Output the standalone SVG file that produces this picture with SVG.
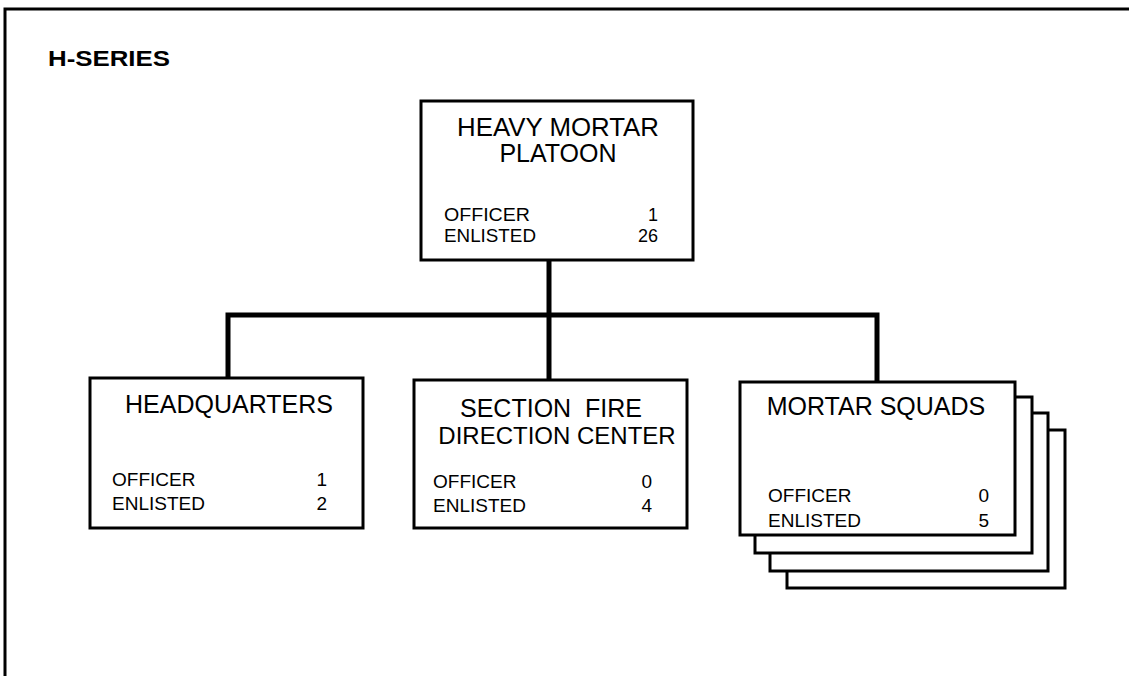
<svg xmlns="http://www.w3.org/2000/svg" width="1129" height="676" viewBox="0 0 1129 676">
<style>
.box{fill:#fff;stroke:#000;stroke-width:3}
.conn{fill:none;stroke:#000;stroke-width:5;stroke-linejoin:miter}
.t{font-family:"Liberation Sans",Arial,sans-serif;fill:#000}
.title{font-size:25px;text-anchor:middle}
.row{font-size:19px}
.num{font-size:19px;text-anchor:end}
.sm{font-size:18px}
</style>
<rect width="1129" height="676" fill="#fff"/>
<rect x="5" y="9" width="1200" height="800" fill="none" stroke="#000" stroke-width="3"/>
<text class="t" x="48" y="66" font-size="22" font-weight="bold" textLength="122" lengthAdjust="spacingAndGlyphs">H-SERIES</text>
<g id="connectors">
<path class="conn" d="M549 260 V380"/>
<path class="conn" d="M228 380 V315 H877 V382"/>
</g>
<g id="platoon">
<rect class="box" x="421" y="101" width="272" height="159"/>
<text class="t title" x="558" y="136" font-size="24" textLength="202" lengthAdjust="spacingAndGlyphs">HEAVY MORTAR</text>
<text class="t title" x="558" y="162" font-size="24">PLATOON</text>
<text class="t row sm" x="444" y="221" textLength="86" lengthAdjust="spacingAndGlyphs">OFFICER</text>
<text class="t num sm" x="658" y="221">1</text>
<text class="t row sm" x="444" y="242" textLength="92" lengthAdjust="spacingAndGlyphs">ENLISTED</text>
<text class="t num sm" x="658" y="242">26</text>
</g>
<g id="headquarters">
<rect class="box" x="90" y="378" width="273" height="150"/>
<text class="t title" x="229" y="413">HEADQUARTERS</text>
<text class="t row" x="112" y="486">OFFICER</text>
<text class="t num" x="327" y="486">1</text>
<text class="t row" x="112" y="510">ENLISTED</text>
<text class="t num" x="327" y="510">2</text>
</g>
<g id="fdc">
<rect class="box" x="414" y="380" width="273" height="148"/>
<text class="t title" x="551" y="417" xml:space="preserve">SECTION  FIRE</text>
<text class="t" x="557" y="444" font-size="24" text-anchor="middle">DIRECTION CENTER</text>
<text class="t row" x="433" y="488">OFFICER</text>
<text class="t num" x="652" y="488">0</text>
<text class="t row" x="433" y="512">ENLISTED</text>
<text class="t num" x="652" y="512">4</text>
</g>
<g id="mortar-squads">
<rect class="box" x="787" y="430" width="278" height="158"/>
<rect class="box" x="770" y="413" width="278" height="158"/>
<rect class="box" x="755" y="397" width="277" height="156"/>
<rect class="box" x="740" y="382" width="275" height="153"/>
<text class="t title" x="876" y="415">MORTAR SQUADS</text>
<text class="t row" x="768" y="502">OFFICER</text>
<text class="t num" x="989" y="502">0</text>
<text class="t row" x="768" y="527">ENLISTED</text>
<text class="t num" x="989" y="527">5</text>
</g>
</svg>
